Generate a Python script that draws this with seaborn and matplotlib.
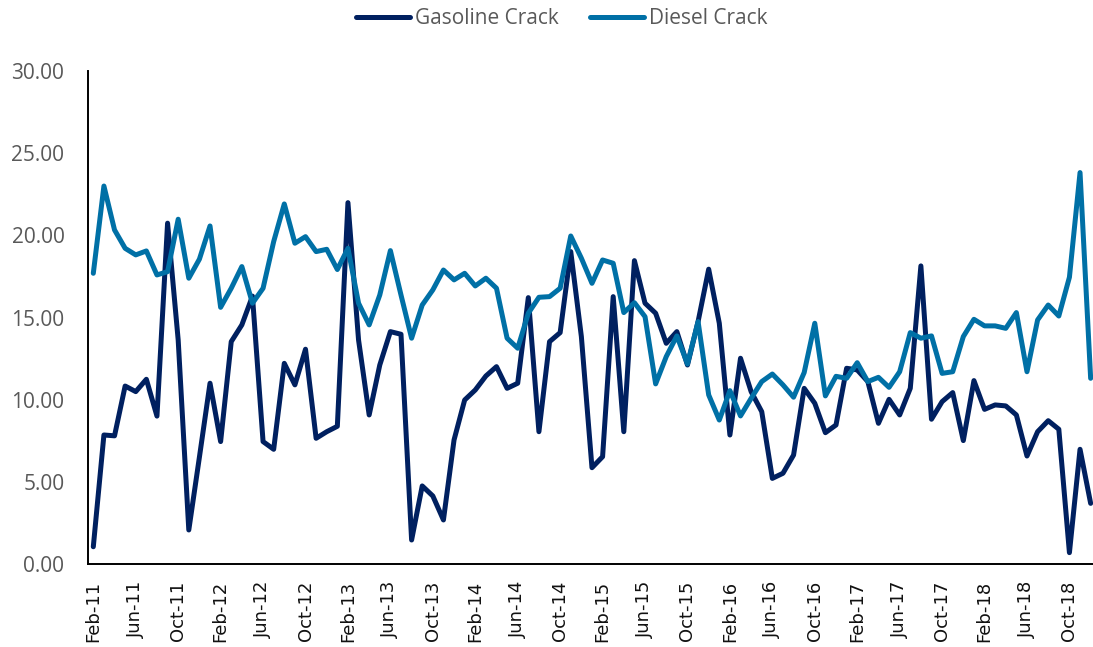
import numpy as np
import pandas as pd
import matplotlib
matplotlib.use("Agg")
import matplotlib.pyplot as plt
import seaborn as sns

# ---------------- data ----------------
month_labels = pd.date_range("2011-02-01", periods=95, freq="MS").strftime("%b-%y").tolist()

gasoline = [1.05, 7.85, 7.80, 10.83, 10.49, 11.24, 9.00, 20.74, 13.63, 2.07,
            6.50, 11.00, 7.45, 13.53, 14.55, 16.30, 7.45, 6.98, 12.21, 10.90,
            13.07, 7.65, 8.05, 8.38, 21.99, 13.63, 9.07, 12.11, 14.14, 13.98,
            1.46, 4.75, 4.14, 2.68, 7.55, 9.98, 10.59, 11.44, 12.01, 10.69,
            11.00, 16.21, 8.05, 13.53, 14.08, 19.01, 13.84, 5.86, 6.53, 16.27,
            8.05, 18.46, 15.87, 15.26, 13.43, 14.14, 12.11, 14.75, 17.94, 14.65,
            7.85, 12.52, 10.49, 9.27, 5.21, 5.52, 6.63, 10.69, 9.78, 7.99,
            8.46, 11.91, 11.81, 11.10, 8.56, 10.02, 9.07, 10.69, 18.14, 8.81,
            9.88, 10.43, 7.51, 11.16, 9.41, 9.68, 9.62, 9.07, 6.57, 8.05,
            8.72, 8.20, 0.69, 6.98, 3.69]

diesel = [17.69, 23.00, 20.33, 19.21, 18.81, 19.05, 17.59, 17.79, 20.98, 17.39,
          18.55, 20.57, 15.62, 16.78, 18.10, 15.87, 16.78, 19.62, 21.91, 19.52,
          19.92, 19.01, 19.15, 17.92, 19.21, 15.87, 14.55, 16.37, 19.07, 16.37,
          13.74, 15.76, 16.68, 17.89, 17.29, 17.69, 16.92, 17.39, 16.78, 13.74,
          13.13, 15.26, 16.23, 16.27, 16.78, 19.96, 18.61, 17.08, 18.50, 18.30,
          15.30, 15.90, 15.05, 10.96, 12.62, 13.88, 12.17, 14.75, 10.29, 8.76,
          10.55, 9.01, 10.08, 11.10, 11.56, 10.90, 10.15, 11.65, 14.65, 10.23,
          11.42, 11.30, 12.25, 11.10, 11.36, 10.75, 11.70, 14.08, 13.74, 13.88,
          11.60, 11.70, 13.84, 14.89, 14.49, 14.49, 14.34, 15.30, 11.70, 14.85,
          15.76, 15.09, 17.45, 23.82, 11.30]

series_names = ["Gasoline Crack", "Diesel Crack"]
tick_labels = ["Feb-11", "Jun-11", "Oct-11", "Feb-12", "Jun-12", "Oct-12",
               "Feb-13", "Jun-13", "Oct-13", "Feb-14", "Jun-14", "Oct-14",
               "Feb-15", "Jun-15", "Oct-15", "Feb-16", "Jun-16", "Oct-16",
               "Feb-17", "Jun-17", "Oct-17", "Feb-18", "Jun-18", "Oct-18"]
y_ticks = [0, 5, 10, 15, 20, 25, 30]

colors = ["#002060", "#0070A6"]
gray = "#595959"

df = pd.DataFrame({"pos": np.arange(len(month_labels)),
                   "month": month_labels,
                   series_names[0]: gasoline,
                   series_names[1]: diesel})
long = df.melt(id_vars=["pos", "month"], value_vars=series_names,
               var_name="series", value_name="value")

# ---------------- plot ----------------
sns.set_style("white")
plt.rcParams["font.family"] = ["Open Sans", "DejaVu Sans"]

W, H = 1093, 647
fig = plt.figure(figsize=(W / 100, H / 100), dpi=100)
ax = fig.add_axes([88 / W, (H - 564) / H, 1 - 88 / W, (564 - 71) / H])

sns.lineplot(data=long, x="pos", y="value", hue="series", hue_order=series_names,
             palette=colors, linewidth=3.6, ax=ax, sort=False,
             solid_joinstyle="round", solid_capstyle="round")

handles, labels = ax.get_legend_handles_labels()
if ax.get_legend() is not None:
    ax.get_legend().remove()

ax.set_ylim(0, 30)
ax.set_xlim(-0.5, (W - 88) / 10.61 - 0.5)
ax.set_yticks(y_ticks)
ax.set_yticklabels([f"{v:.2f}" for v in y_ticks], fontsize=15, color=gray)
ax.tick_params(axis="y", length=0, pad=17)

tick_pos = [month_labels.index(t) for t in tick_labels]
ax.set_xticks(tick_pos)
ax.set_xticklabels(tick_labels, rotation=90, fontsize=13, color="#111111",
                   family="DejaVu Sans")
ax.tick_params(axis="x", which="major", length=0, pad=12)
ax.set_xticks([p - 0.5 for p in tick_pos], minor=True)
ax.tick_params(axis="x", which="minor", length=6, width=1.3, color="black",
               direction="out")

ax.set_xlabel("")
ax.set_ylabel("")
ax.grid(False)
for s in ["top", "right"]:
    ax.spines[s].set_visible(False)
for s in ["left", "bottom"]:
    ax.spines[s].set_color("black")
    ax.spines[s].set_linewidth(1.4)

fig.legend(handles, labels, loc="center", bbox_to_anchor=(562 / W, 1 - 19 / H),
           ncol=2, frameon=False, fontsize=15, labelcolor=gray,
           handlelength=2.6, handletextpad=0.24, columnspacing=1.5)

fig.savefig("out.png", dpi=100)
